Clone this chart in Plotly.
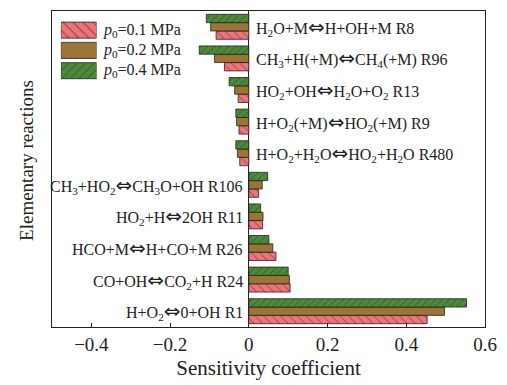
import plotly.graph_objects as go

# Reactions, listed bottom to top on the chart
reactions = ["R1", "R24", "R26", "R11", "R106", "R480", "R9", "R13", "R96", "R8"]
ARROW = "<span style=\"font-family:'DejaVu Sans';font-size:20px\">⇔</span>"
reaction_labels = [
    "H+O<sub>2</sub>{a}0+OH R1",
    "CO+OH{a}CO<sub>2</sub>+H R24",
    "HCO+M{a}H+CO+M R26",
    "HO<sub>2</sub>+H{a}2OH R11",
    "CH<sub>3</sub>+HO<sub>2</sub>{a}CH<sub>3</sub>O+OH R106",
    "H+O<sub>2</sub>+H<sub>2</sub>O{a}HO<sub>2</sub>+H<sub>2</sub>O R480",
    "H+O<sub>2</sub>(+M){a}HO<sub>2</sub>(+M) R9",
    "HO<sub>2</sub>+OH{a}H<sub>2</sub>O+O<sub>2</sub> R13",
    "CH<sub>3</sub>+H(+M){a}CH<sub>4</sub>(+M) R96",
    "H<sub>2</sub>O+M{a}H+OH+M R8",
]

# Sensitivity coefficients at three initial pressures
sens_p01 = [0.453, 0.105, 0.069, 0.035, 0.025, -0.023, -0.025, -0.027, -0.062, -0.083]
sens_p02 = [0.497, 0.103, 0.061, 0.036, 0.034, -0.029, -0.031, -0.036, -0.087, -0.097]
sens_p04 = [0.553, 0.100, 0.051, 0.030, 0.048, -0.033, -0.033, -0.050, -0.126, -0.108]

series_names = ["<i>p</i><sub>0</sub>=0.1 MPa", "<i>p</i><sub>0</sub>=0.2 MPa", "<i>p</i><sub>0</sub>=0.4 MPa"]
series_colors = ["#F0737B", "#9A7536", "#4B8A37"]
series_patterns = ["\\", "", "/"]
series_pattern_sizes = [6, 6, 5]

x_ticks = [-0.4, -0.2, 0, 0.2, 0.4, 0.6]
x_tick_text = ["−0.4", "−0.2", "0", "0.2", "0.4", "0.6"]

FONT = "Liberation Serif, Times New Roman, serif"

fig = go.Figure()
for vals, name, color, pat, psize in zip(
    [sens_p01, sens_p02, sens_p04], series_names, series_colors, series_patterns, series_pattern_sizes
):
    fig.add_trace(go.Bar(
        y=reactions, x=vals, orientation="h", name=name,
        marker=dict(
            color=color,
            line=dict(color="#222", width=0.8),
            pattern=dict(shape=pat, fgcolor="#111", size=psize, solidity=0.15, fillmode="overlay"),
        ),
        showlegend=False,
    ))

# Legend swatches drawn as bars on a small inset axis
legend_keys = ["k1", "k2", "k3"]
for key, name, color, pat, psize in zip(legend_keys, series_names, series_colors, series_patterns, series_pattern_sizes):
    fig.add_trace(go.Bar(
        y=[key], x=[1], orientation="h", xaxis="x2", yaxis="y2",
        marker=dict(
            color=color,
            line=dict(color="#222", width=0.8),
            pattern=dict(shape=pat, fgcolor="#111", size=psize + 1, solidity=0.15, fillmode="overlay"),
        ),
        showlegend=False, hoverinfo="skip",
    ))

annotations = []
for r, lab, v in zip(reactions, reaction_labels, sens_p01):
    positive = v > 0
    annotations.append(dict(
        x=0, y=r, xref="x", yref="y", text=lab.format(a=ARROW), showarrow=False,
        xanchor="right" if positive else "left",
        xshift=-4 if positive else 5,
        font=dict(family=FONT, size=16, color="#222"),
    ))
for key, name in zip(legend_keys, series_names):
    annotations.append(dict(
        x=1, y=key, xref="x2", yref="y2", text=name, showarrow=False,
        xanchor="left", xshift=4,
        font=dict(family=FONT, size=16, color="#222"),
    ))
# Vertical axis title, placed slightly above the plot's midline
annotations.append(dict(
    x=-0.059, y=0.527, xref="paper", yref="paper", text="Elementary reactions",
    textangle=-90, showarrow=False, xanchor="center", yanchor="middle",
    font=dict(family=FONT, size=19, color="#222"),
))

fig.update_layout(
    width=507, height=385,
    margin=dict(l=52, r=16, t=10, b=58),
    paper_bgcolor="white", plot_bgcolor="white",
    barmode="group", bargap=0.21, bargroupgap=0,
    font=dict(family=FONT, size=16, color="#222"),
    xaxis=dict(
        range=[-0.5, 0.6], tickvals=x_ticks, ticktext=x_tick_text,
        ticks="inside", ticklen=4, tickcolor="#222",
        showline=True, linecolor="#222", linewidth=1, mirror=True,
        showgrid=False, zeroline=True, zerolinecolor="#222", zerolinewidth=1,
        title=dict(text="Sensitivity coefficient", font=dict(size=21), standoff=6),
        tickfont=dict(size=19),
    ),
    yaxis=dict(
        categoryorder="array", categoryarray=reactions,
        range=[-0.5, len(reactions) - 0.5],
        showticklabels=False, ticks="",
        showline=True, linecolor="#222", linewidth=1, mirror=True,
        showgrid=False,
    ),
    xaxis2=dict(domain=[0.0205, 0.103], range=[0, 1], visible=False, anchor="y2"),
    yaxis2=dict(domain=[0.779, 0.9716], range=[2.5, -0.5], visible=False, anchor="x2",
                categoryorder="array", categoryarray=legend_keys),
    annotations=annotations,
)

fig.write_html("out.html")
